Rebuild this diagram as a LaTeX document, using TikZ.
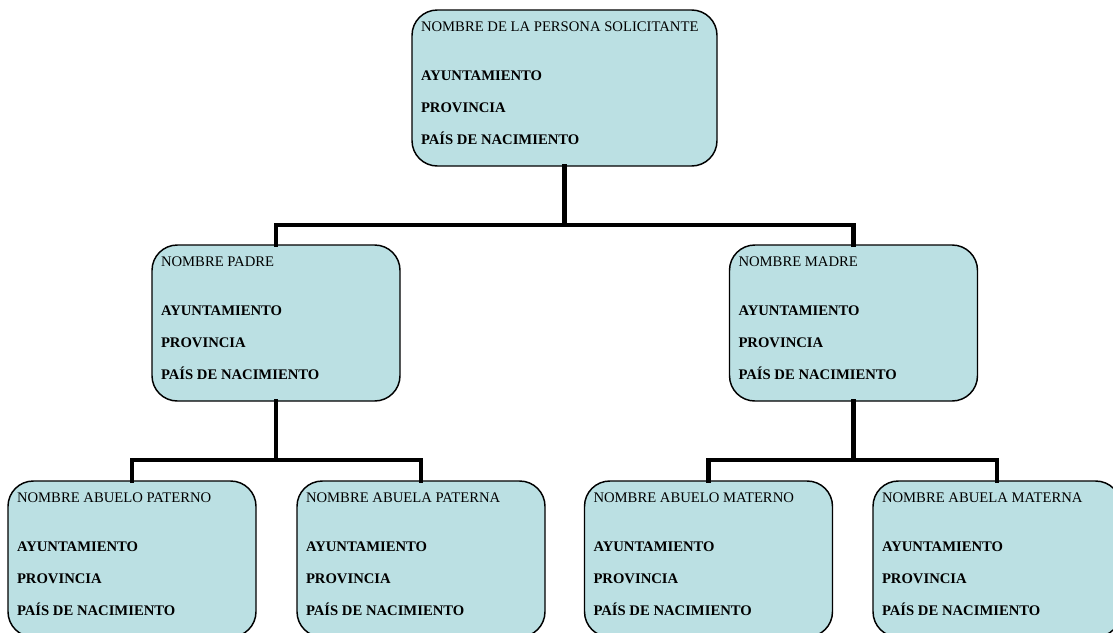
\documentclass[tikz,border=0pt]{standalone}
\usepackage{fontspec}
\setmainfont{Liberation Serif}
\usetikzlibrary{
  positioning,
}
\definecolor{fichafill}{RGB}{187,224,227}
\newcommand{\ficha}[2][172.5pt]{%
  \parbox[c][99pt][t]{#1}{\fontsize{11}{24}\selectfont
    #2\\[12.75pt]
    \textbf{AYUNTAMIENTO}\\
    \textbf{PROVINCIA}\\
    \textbf{PAÍS DE NACIMIENTO}}}
\tikzset{
  persona/.style={
    rectangle,
    rounded corners=19pt,
    draw=black,
    line width=1.1pt,
    fill=fichafill,
    inner xsep=6.75pt,
    inner ysep=9pt,
  },
  enlace/.style={
    line width=3.4pt,
    line cap=rect,
  },
}

\begin{document}
\begin{tikzpicture}[x=0.75pt, y=-0.75pt]

  \clip (0,0) rectangle (1113,632);

  \node[persona] (sol) at (564.5,88) {\ficha[215.25pt]{NOMBRE DE LA PERSONA SOLICITANTE}};

  \node[persona] (padre) at (276,323) {\ficha{NOMBRE PADRE}};
  \node[persona] (madre) at (853.5,323) {\ficha{NOMBRE MADRE}};

  \node[persona] (abuelop) at (132,559) {\ficha{NOMBRE ABUELO PATERNO}};
  \node[persona] (abuelap) at (421,559) {\ficha{NOMBRE ABUELA PATERNA}};
  \node[persona] (abuelom) at (708.5,559) {\ficha{NOMBRE ABUELO MATERNO}};
  \node[persona] (abuelam) at (997,559) {\ficha{NOMBRE ABUELA MATERNA}};

  \coordinate (bus1) at (0,225);
  \coordinate (bus2) at (0,460);

  \draw[enlace] (sol.south) -- (sol.south |- bus1) -| (padre.north);
  \draw[enlace] (sol.south |- bus1) -| (madre.north);

  \draw[enlace] (padre.south) -- (padre.south |- bus2) -| (abuelop.north);
  \draw[enlace] (padre.south |- bus2) -| (abuelap.north);
  \draw[enlace] (madre.south) -- (madre.south |- bus2) -| (abuelom.north);
  \draw[enlace] (madre.south |- bus2) -| (abuelam.north);

\end{tikzpicture}
\end{document}
